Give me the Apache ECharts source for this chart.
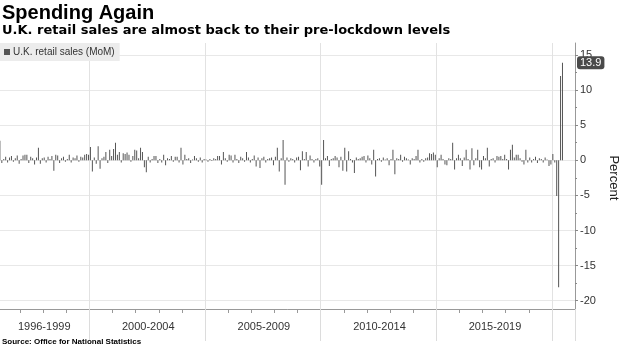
<!DOCTYPE html>
<html><head><meta charset="utf-8">
<script src="https://cdn.jsdelivr.net/npm/echarts@6/dist/echarts.min.js"></script>
<style>html,body{margin:0;padding:0;background:#fff}#c{width:620px;height:348px}</style>
</head><body><div id="c"></div>
<script>
// ---- data (monthly % change, Jan 1996 .. Jun 2020) ----
const periodLabels = ['1996-1999', '2000-2004', '2005-2009', '2010-2014', '2015-2019'];
const periodStarts = ['1996-01', '2000-01', '2005-01', '2010-01', '2015-01', '2020-01'];
const sales1996_1999 = [
  0.3, 2.8, -0.4, 0.2, 0.5, -0.3, 0.4, 0.6, -0.2, 0.3, 0.7, -0.5,
  0.2, 0.7, 0.8, 0.8, -0.4, 0.5, 0.3, -0.6, 0.4, 1.8, -0.5, 0.3,
  0.4, -0.3, 0.5, 0.2, 0.6, -1.5, 0.8, 0.7, -0.4, 0.3, 0.5, -0.2,
  0.2, 0.8, -0.3, 0.4, 0.3, 0.7, -0.2, 0.5, 0.4, 0.8, 0.9, 0.8
];
const sales2000_2004 = [
  1.9, -1.6, 0.4, -0.5, 2.0, -1.2, 0.3, 0.5, 1.2, -0.4, 1.5, 0.6,
  1.6, 2.5, 0.8, 1.2, -0.3, 1.0, 0.9, 1.1, 0.8, -0.2, 0.6, 1.5,
  1.4, 0.3, 1.8, 1.2, -1.0, -1.7, 0.5, -0.3, 0.2, 0.6, 0.6, -0.4,
  0.2, -0.3, 0.8, -0.7, 0.3, 0.2, 0.6, -0.2, 0.5, 0.5, -0.3, 1.8,
  -0.6, 0.8, 0.2, 0.3, -0.4, 0.1, 0.6, 0.3, -0.2, 0.4, -0.3, 0.2
];
const sales2005_2009 = [
  0.1, -0.2, 0.2, -0.1, 0.3, 0.2, 0.6, 0.6, -0.6, 1.2, 0.3, -0.2,
  0.8, 0.7, -0.3, 0.8, 0.2, -0.4, 0.5, 0.3, -0.2, 1.2, 0.4, -0.3,
  0.2, 0.7, -0.9, 0.4, -1.1, 0.3, 0.5, -0.3, 0.2, 0.3, 0.4, -0.7,
  0.5, 1.8, -1.6, 0.3, 2.9, -3.5, 0.4, -0.2, 0.3, 0.2, -0.3, 0.4,
  0.5, -1.4, 1.3, 0.2, 1.2, -0.9, 0.7, 0.2, -0.3, 0.2, 0.3, -0.9
];
const sales2010_2014 = [
  -3.5, 2.9, 0.3, 0.6, -0.8, 0.2, 0.3, 0.6, 0.4, -1.0, 0.5, -1.5,
  1.8, -1.6, 1.3, 0.2, -0.3, -1.8, 0.4, 0.2, 0.3, 0.5, 0.6, -0.3,
  0.7, 0.3, -0.6, 1.5, -2.3, 0.2, 0.3, -0.2, 0.4, 0.1, 0.3, -0.7,
  0.2, 1.5, -2.0, 0.3, 0.2, 0.8, -0.2, 0.5, 0.3, 0.1, -0.6, 0.3,
  0.2, 0.6, 1.5, -0.3, 0.2, -0.2, 0.3, 0.4, 1.0, 0.9, 1.1, 0.8
];
const sales2015_2019 = [
  -1.0, 0.3, 0.8, 0.2, -0.6, -0.7, 0.3, 0.2, 2.5, -1.3, 0.3, 0.8,
  0.3, -0.8, 0.4, 1.5, 0.2, -1.3, 1.7, -0.7, 0.3, 1.5, -1.0, -1.3,
  0.6, 0.3, 1.8, -0.9, 0.2, 0.3, -0.3, 0.6, 0.5, 0.6, 0.2, 0.8,
  0.2, -1.3, 1.5, 2.2, 0.4, 0.8, 0.8, 0.3, -0.2, -0.6, 1.5, -0.3,
  0.4, -0.3, 0.2, 0.5, -0.4, 0.3, 0.2, -0.3, 0.4, 0.1, -0.8, -0.6
];
const sales2020 = [0.9, -0.3, -5.1, -18.1, 12.0, 13.9];
const yMin = -20, yMax = 15, yStep = 5;
const seriesName = 'U.K. retail sales (MoM)';

// ---- build ----
const monthlyChange = [].concat(sales1996_1999, sales2000_2004, sales2005_2009, sales2010_2014, sales2015_2019, sales2020);
const months = [];
for (let y = 1996; y <= 2020; y++) for (let m = 1; m <= 12; m++) months.push(y + '-' + String(m).padStart(2, '0'));
const seriesData = months.map((_, i) => i < monthlyChange.length ? monthlyChange[i] : null);
const startIdx = periodStarts.map(s => months.indexOf(s));
const boundaryIdx = startIdx.slice(1);
const labelIdx = periodLabels.map((_, k) => Math.round((startIdx[k] + startIdx[k + 1]) / 2));
const lastValue = monthlyChange[monthlyChange.length - 1];

const FONT = 'Liberation Sans';
const chart = echarts.init(document.getElementById('c'), null, {renderer: 'canvas'});
chart.setOption({
  animation: false,
  textStyle: {fontFamily: FONT},
  title: [
    {text: 'Spending Again', left: 2, top: 3, padding: 0, textStyle: {fontSize: 20, fontWeight: 'bold', color: '#000', fontFamily: FONT}},
    {text: 'U.K. retail sales are almost back to their pre-lockdown levels', left: 2, top: 24, padding: 0, textStyle: {fontSize: 13, fontWeight: 'bold', color: '#000', fontFamily: 'DejaVu Sans'}},
    {text: 'Source: Office for National Statistics', left: 2, top: 338, padding: 0, textStyle: {fontSize: 8, fontWeight: 'bold', color: '#000', fontFamily: FONT}}
  ],
  legend: {
    left: 0, top: 43, padding: [4, 5, 4, 4], itemWidth: 6, itemHeight: 6, icon: 'rect', itemGap: 0,
    backgroundColor: '#ececec', selectedMode: false,
    textStyle: {fontSize: 10, color: '#333', padding: [0, 0, 0, -2]},
    data: [seriesName]
  },
  grid: [
    {left: -3, right: 45, top: 55, bottom: 47.3, containLabel: false, outerBoundsMode: 'none'},
    {left: -3, right: 45, top: 43, bottom: 39, containLabel: false, outerBoundsMode: 'none'}
  ],
  xAxis: [
    {gridIndex: 0, type: 'category', data: months, show: false},
    {gridIndex: 1, type: 'category', data: months, position: 'bottom',
      axisLine: {show: true, lineStyle: {color: '#999'}},
      axisTick: {show: true, interval: (i) => i % 12 === 0, length: 4, lineStyle: {color: '#999'}},
      axisLabel: {show: false}, splitLine: {show: false}},
    {gridIndex: 1, type: 'category', data: months, position: 'bottom',
      axisLine: {show: false},
      axisTick: {show: true, interval: (i) => boundaryIdx.includes(i), length: 32, lineStyle: {color: '#dcdcdc'}},
      axisLabel: {show: true, interval: (i) => labelIdx.includes(i), formatter: (v, i) => periodLabels[labelIdx.indexOf(i)] || '',
        fontSize: 11, color: '#333', margin: 12, hideOverlap: false},
      splitLine: {show: true, interval: (i) => boundaryIdx.includes(i), lineStyle: {color: '#e2e2e2'}}}
  ],
  yAxis: [
    {gridIndex: 0, type: 'value', position: 'right', min: yMin, max: yMax, interval: yStep,
      axisLine: {show: false},
      axisTick: {show: true, length: 3, lineStyle: {color: '#888'}},
      minorTick: {show: true, splitNumber: 2, length: 2, lineStyle: {color: '#888'}},
      axisLabel: {fontSize: 11, color: '#333', margin: 5},
      splitLine: {show: true, lineStyle: {color: '#e8e8e8'}},
      name: 'Percent', nameLocation: 'middle', nameRotate: -90, nameGap: 22,
      nameTextStyle: {fontSize: 13, color: '#222'},
      axisPointer: {show: true, type: 'line', value: lastValue, status: 'show', triggerTooltip: false,
        lineStyle: {opacity: 0},
        label: {show: true, backgroundColor: '#4a4a4a', color: '#fff', fontSize: 11, padding: [1, 3, 1, 3], margin: 2,
          formatter: (p) => String(lastValue)}}},
    {gridIndex: 1, type: 'value', position: 'right', min: 0, max: 1,
      axisLine: {show: true, lineStyle: {color: '#999'}},
      axisTick: {show: false}, axisLabel: {show: false}, splitLine: {show: false}}
  ],
  series: [{
    name: seriesName, type: 'bar', xAxisIndex: 0, yAxisIndex: 0,
    data: seriesData, barWidth: 1, silent: true,
    itemStyle: {color: '#555'}
  }]
});
</script>
</body></html>
